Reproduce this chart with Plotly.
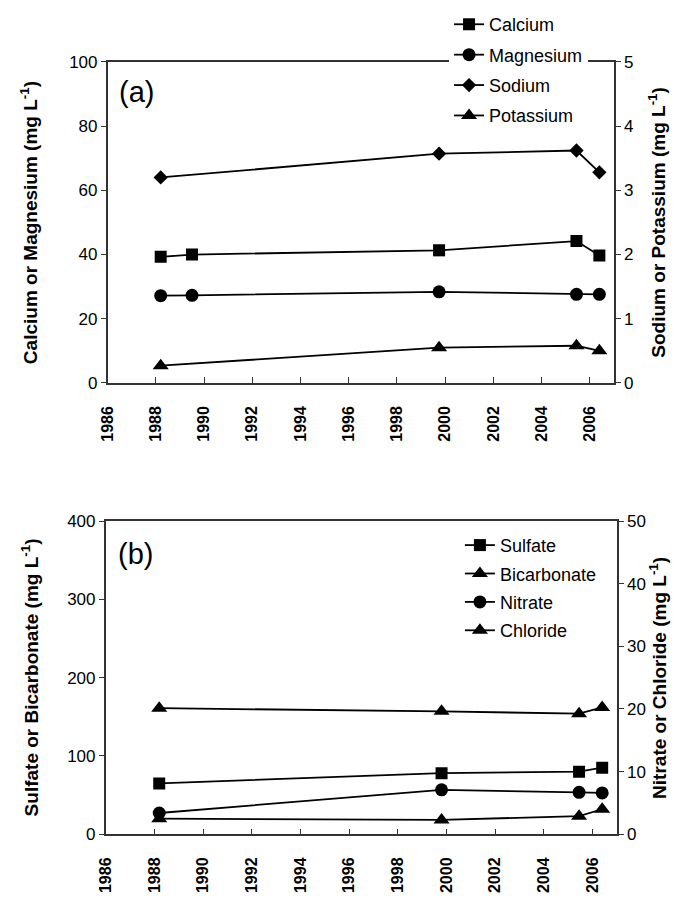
import plotly.graph_objects as go

# ---------------- data ----------------
years_a_cm = [1988.2, 1989.5, 1999.75, 2005.45, 2006.4]
calcium = [39.3, 40.0, 41.3, 44.2, 39.7]
magnesium = [27.2, 27.3, 28.4, 27.6, 27.6]
years_a_nk = [1988.2, 1999.75, 2005.45, 2006.4]
sodium = [3.20, 3.57, 3.62, 3.28]
potassium = [0.27, 0.55, 0.58, 0.50]

years_b = [1988.2, 1999.8, 2005.45, 2006.4]
sulfate = [65, 78, 80, 85]
bicarbonate = [161, 157, 154, 162]
nitrate = [3.4, 7.1, 6.7, 6.6]
chloride = [2.5, 2.3, 2.9, 4.0]

x_ticks = list(range(1986, 2007, 2))

W, H = 675, 905
FONT = "Liberation Sans, Arial, sans-serif"
AX = "#333333"

def px_x(p):
    return p / W

def px_y(p):
    return 1 - p / H

fig = go.Figure()

line = dict(color="black", width=1.8)

def add(x, y, name, symbol, size, xa, ya, legend):
    fig.add_trace(go.Scatter(
        x=x, y=y, name=name, mode="lines+markers",
        line=line, marker=dict(symbol=symbol, size=size, color="black"),
        xaxis=xa, yaxis=ya, legend=legend, legendgroup=name,
    ))

add(years_a_cm, calcium, "Calcium", "square", 12, "x", "y", "legend")
add(years_a_cm, magnesium, "Magnesium", "circle", 13, "x", "y", "legend")
add(years_a_nk, sodium, "Sodium", "diamond", 11, "x", "y2", "legend")
add(years_a_nk, potassium, "Potassium", "triangle-up", 14, "x", "y2", "legend")

add(years_b, sulfate, "Sulfate", "square", 12, "x2", "y3", "legend2")
add(years_b, bicarbonate, "Bicarbonate", "triangle-up", 14, "x2", "y3", "legend2")
add(years_b, nitrate, "Nitrate", "circle", 13, "x2", "y4", "legend2")
add(years_b, chloride, "Chloride", "triangle-up", 14, "x2", "y4", "legend2")

# panel geometry (px)
a_left, a_right, a_top, a_bot = 100, 613, 54, 382
b_left, b_right, b_top, b_bot = 98, 616, 523, 843

xcommon = dict(
    range=[1986, 2007], tickmode="array", tickvals=x_ticks,
    ticktext=[str(v) for v in x_ticks], tickangle=-90,
    ticks="inside", ticklen=6, tickcolor=AX, tickwidth=1.2,
    showline=True, linecolor=AX, linewidth=1.5, mirror=True,
    showgrid=False, zeroline=False,
    tickfont=dict(family=FONT, size=16, color="black", weight="bold"),
    ticklabelstandoff=15,
)
ycommon = dict(
    ticks="outside", ticklen=5, tickcolor=AX, tickwidth=1.2,
    showline=True, linecolor=AX, linewidth=1.5,
    showgrid=False, zeroline=False,
    tickfont=dict(family=FONT, size=17, color="black"),
)

fig.update_layout(
    width=W, height=H,
    margin=dict(l=0, r=0, t=0, b=0),
    paper_bgcolor="white", plot_bgcolor="white",
    font=dict(family=FONT, color="black"),
    xaxis=dict(domain=[px_x(a_left), px_x(a_right)], anchor="y", **xcommon),
    yaxis=dict(domain=[px_y(a_bot), px_y(a_top)], anchor="x", range=[0, 100], dtick=20, **ycommon),
    yaxis2=dict(overlaying="y", side="right", anchor="x", range=[0, 5], dtick=1, **ycommon),
    xaxis2=dict(domain=[px_x(b_left), px_x(b_right)], anchor="y3", **xcommon),
    yaxis3=dict(domain=[px_y(b_bot), px_y(b_top)], anchor="x2", range=[0, 400], dtick=100, **ycommon),
    yaxis4=dict(overlaying="y3", side="right", anchor="x2", range=[0, 50], dtick=10, **ycommon),
    legend=dict(
        x=px_x(446), y=1 + 3 / H, xanchor="left", yanchor="top",
        bgcolor="white", borderwidth=0, itemwidth=30,
        font=dict(family=FONT, size=18, color="black"),
        tracegroupgap=4, traceorder="grouped",
    ),
    legend2=dict(
        x=px_x(457), y=px_y(529), xanchor="left", yanchor="top",
        bgcolor="rgba(0,0,0,0)", borderwidth=0, itemwidth=30,
        font=dict(family=FONT, size=18, color="black"),
        tracegroupgap=2, traceorder="grouped",
    ),
    showlegend=True,
)

title_font = dict(family=FONT, size=19, color="black", weight="bold")

def vtitle(text, xpx, ymid):
    fig.add_annotation(
        x=px_x(xpx), y=px_y(ymid), xref="paper", yref="paper",
        text=text, textangle=-90, showarrow=False, font=title_font,
        xanchor="center", yanchor="middle",
    )

vtitle("Calcium or Magnesium (mg L<sup>-1</sup>)", 21, (a_top + a_bot) / 2)
vtitle("Sodium or Potassium (mg L<sup>-1</sup>)", 657, (a_top + a_bot) / 2)
vtitle("Sulfate or Bicarbonate (mg L<sup>-1</sup>)", 21, (b_top + b_bot) / 2)
vtitle("Nitrate or Chloride (mg L<sup>-1</sup>)", 657, (b_top + b_bot) / 2)

panel_font = dict(family=FONT, size=29, color="black")
fig.add_annotation(x=px_x(109), y=px_y(85), xref="paper", yref="paper",
                   text="(a)", showarrow=False, font=panel_font,
                   xanchor="left", yanchor="middle")
fig.add_annotation(x=px_x(108), y=px_y(557), xref="paper", yref="paper",
                   text="(b)", showarrow=False, font=panel_font,
                   xanchor="left", yanchor="middle")

fig.write_html(
    "out.html",
    config={"displayModeBar": False},
    post_script="document.body.style.margin='0';document.body.style.overflow='hidden';",
)
